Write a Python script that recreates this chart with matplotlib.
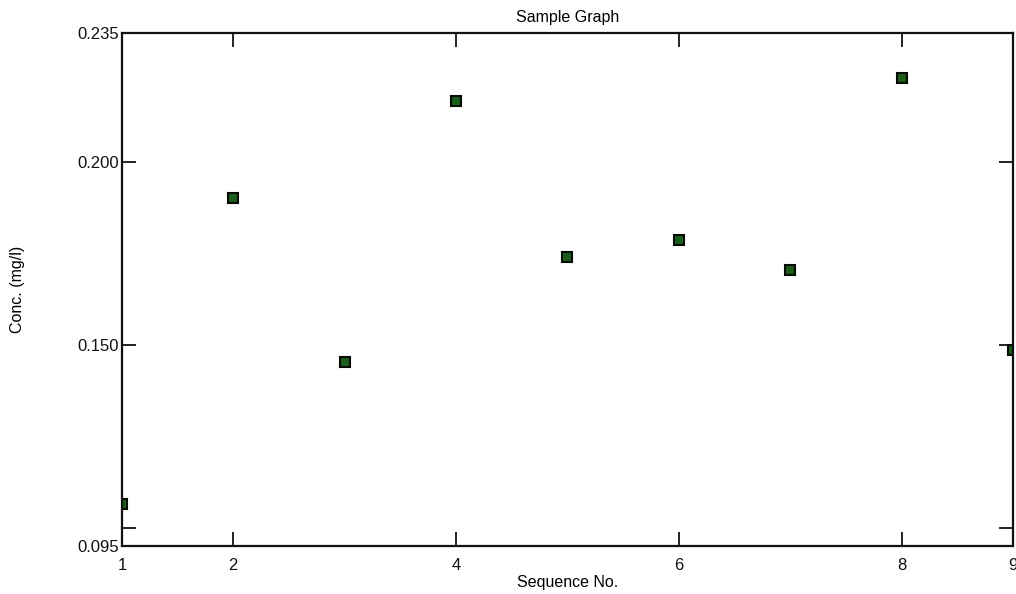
import matplotlib
matplotlib.use("Agg")
import matplotlib.pyplot as plt

plt.rcParams['font.family'] = ['Liberation Sans', 'DejaVu Sans']

# Measured concentration for each sequence number
sequence = [1, 2, 3, 4, 5, 6, 7, 8, 9]
conc = [0.1067, 0.1900, 0.1452, 0.2165, 0.1740, 0.1786, 0.1705, 0.2228, 0.1485]

x_ticks = [1, 2, 4, 6, 8, 9]
y_ticks = [0.095, 0.100, 0.150, 0.200, 0.235]
y_tick_labels = ["0.095", "", "0.150", "0.200", "0.235"]

fig = plt.figure(figsize=(10.16, 5.94), dpi=100)
ax = fig.add_axes([0.120, 0.080, 0.877, 0.864])

ax.plot(sequence, conc, linestyle='none', marker='s', markersize=6.5,
        markerfacecolor='#1b5e1b', markeredgecolor='#050a05', markeredgewidth=1.5)

ax.set_xlim(1, 9)
ax.set_ylim(0.095, 0.235)
ax.set_xticks(x_ticks)
ax.set_xticklabels([str(v) for v in x_ticks])
ax.set_yticks(y_ticks)
ax.set_yticklabels(y_tick_labels)

ax.tick_params(direction='in', length=10, width=1.3, top=True, right=True,
               labelsize=12, colors='#111111')
ax.tick_params(axis='x', pad=8)
ax.tick_params(axis='y', pad=2)
for s in ax.spines.values():
    s.set_linewidth(1.6)
    s.set_color('#111111')

ax.set_title("Sample Graph", fontsize=11.5, pad=8)
ax.set_xlabel("Sequence No.", fontsize=11.5, labelpad=2)
ax.set_ylabel("Conc. (mg/l)", fontsize=11.5, labelpad=38)

fig.savefig("out.png", dpi=100)
